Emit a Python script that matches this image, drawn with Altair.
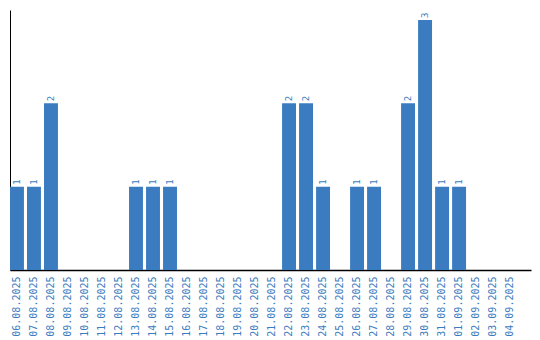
import altair as alt
import pandas as pd

dates = ["06.08.2025", "07.08.2025", "08.08.2025", "09.08.2025", "10.08.2025",
         "11.08.2025", "12.08.2025", "13.08.2025", "14.08.2025", "15.08.2025",
         "16.08.2025", "17.08.2025", "18.08.2025", "19.08.2025", "20.08.2025",
         "21.08.2025", "22.08.2025", "23.08.2025", "24.08.2025", "25.08.2025",
         "26.08.2025", "27.08.2025", "28.08.2025", "29.08.2025", "30.08.2025",
         "31.08.2025", "01.09.2025", "02.09.2025", "03.09.2025", "04.09.2025"]
counts = [1, 1, 2, 0, 0, 0, 0, 1, 1, 1,
          0, 0, 0, 0, 0, 0, 2, 2, 1, 0,
          1, 1, 0, 2, 3, 1, 1, 0, 0, 0]

df = pd.DataFrame({"date": dates, "count": counts})
df["label"] = df["count"].apply(lambda v: str(v) if v > 0 else "")

BLUE = "#3b7cc0"

x = alt.X("date:N", sort=dates,
          scale=alt.Scale(paddingInner=0.18, paddingOuter=0.41, align=0),
          axis=alt.Axis(title=None, labelAngle=270, labelAlign="right",
                        labelBaseline="middle", labelColor=BLUE,
                        labelFont="DejaVu Sans Mono", labelFontSize=10,
                        labelPadding=6, ticks=False, domainColor="black",
                        domainWidth=1.5, labelOverlap=False))
y = alt.Y("count:Q", scale=alt.Scale(domain=[0, 3.12], nice=False),
          axis=alt.Axis(title=None, labels=False, ticks=False, grid=False,
                        domainColor="black", domainWidth=1))

base = alt.Chart(df)
bars = base.mark_bar(color=BLUE).encode(x=x, y=y)
text = base.mark_text(angle=270, align="left", baseline="middle", dx=2,
                      color=BLUE, font="DejaVu Sans Mono", fontSize=9).encode(
    x=alt.X("date:N", sort=dates), y="count:Q", text="label:N")

chart = (bars + text).properties(
    width=521, height=260,
    background="white",
    padding={"left": 10, "top": 10, "right": 9, "bottom": 70},
    autosize=alt.AutoSizeParams(type="none"),
).configure_view(stroke=None, strokeWidth=0)

chart.save("out.html", embed_options={"renderer": "svg", "actions": False})
